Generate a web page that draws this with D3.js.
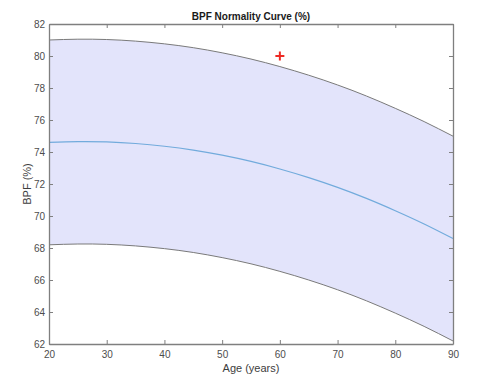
<!DOCTYPE html>
<html>
<head>
<meta charset="utf-8">
<script src="https://cdn.jsdelivr.net/npm/d3@7"></script>
<style>
  body { margin: 0; background: #fff; }
  text { font-family: "Liberation Sans", Arial, sans-serif; }
</style>
</head>
<body>
<svg id="chart" width="487" height="389"></svg>
<script>
// ages sampled along the normality curve
const ages = [20, 25, 30, 35, 40, 45, 50, 55, 60, 65, 70, 75, 80, 85, 90];
// mean BPF (%) and band limits
const meanBpf  = [74.60, 74.65, 74.63, 74.53, 74.36, 74.12, 73.80, 73.41, 72.94, 72.40, 71.79, 71.10, 70.33, 69.50, 68.59];
const upperBpf = [81.00, 81.05, 81.03, 80.93, 80.76, 80.52, 80.20, 79.81, 79.34, 78.80, 78.19, 77.50, 76.73, 75.90, 74.99];
const lowerBpf = [68.20, 68.25, 68.23, 68.13, 67.96, 67.72, 67.40, 67.01, 66.54, 66.00, 65.39, 64.70, 63.93, 63.10, 62.19];
// patient measurement
const patient = [{ age: 60, bpf: 80.0 }];

const xTicks = [20, 30, 40, 50, 60, 70, 80, 90];
const yTicks = [62, 64, 66, 68, 70, 72, 74, 76, 78, 80, 82];

const svg = d3.select('#chart');
const margin = { left: 49, right: 34, top: 24, bottom: 45 };
const W = 487, H = 389;

const x = d3.scaleLinear().domain([20, 90]).range([margin.left, W - margin.right]);
const y = d3.scaleLinear().domain([62, 82]).range([H - margin.bottom, margin.top]);

const pts = ages.map((a, i) => ({ age: a, mid: meanBpf[i], hi: upperBpf[i], lo: lowerBpf[i] }));

// band fill
const area = d3.area()
    .x(d => x(d.age))
    .y0(d => y(d.lo))
    .y1(d => y(d.hi))
    .curve(d3.curveNatural);

svg.append('path')
    .datum(pts)
    .attr('d', area)
    .attr('fill', '#e3e4fb');

function curveLine(key) {
    return d3.line()
        .x(d => x(d.age))
        .y(d => y(d[key]))
        .curve(d3.curveNatural);
}

svg.append('path').datum(pts).attr('d', curveLine('hi'))
    .attr('fill', 'none').attr('stroke', '#7a7a7a').attr('stroke-width', 1);
svg.append('path').datum(pts).attr('d', curveLine('lo'))
    .attr('fill', 'none').attr('stroke', '#7a7a7a').attr('stroke-width', 1);
svg.append('path').datum(pts).attr('d', curveLine('mid'))
    .attr('fill', 'none').attr('stroke', '#72abdc').attr('stroke-width', 1.2);

// axes (MATLAB-style box with inward ticks)
const axColor = '#7f7f7f';
const tickLen = 4;

const xAxisB = d3.axisBottom(x).tickValues(xTicks).tickSizeInner(-tickLen).tickSizeOuter(0).tickPadding(7);
const xAxisT = d3.axisTop(x).tickValues(xTicks).tickSizeInner(-tickLen).tickSizeOuter(0).tickFormat('');
const yAxisL = d3.axisLeft(y).tickValues(yTicks).tickSizeInner(-tickLen).tickSizeOuter(0).tickPadding(4);
const yAxisR = d3.axisRight(y).tickValues(yTicks).tickSizeInner(-tickLen).tickSizeOuter(0).tickFormat('');

function styleAxis(g) {
    g.selectAll('path.domain').attr('stroke', axColor).attr('stroke-width', 1.3);
    g.selectAll('.tick line').attr('stroke', axColor);
    g.selectAll('.tick text').attr('fill', '#4d4d4d')
        .style('font-family', '"Liberation Sans", Arial, sans-serif')
        .style('font-size', '10px');
}

svg.append('g').attr('transform', `translate(0,${y(62)})`).call(xAxisB).call(styleAxis);
svg.append('g').attr('transform', `translate(0,${y(82)})`).call(xAxisT).call(styleAxis);
svg.append('g').attr('transform', `translate(${x(20)},0)`).call(yAxisL).call(styleAxis);
svg.append('g').attr('transform', `translate(${x(90)},0)`).call(yAxisR).call(styleAxis);

// patient marker: red plus
const mk = svg.append('g');
patient.forEach(p => {
    const cx = x(p.age), cy = y(p.bpf), s = 4.5;
    mk.append('line').attr('x1', cx - s).attr('x2', cx + s).attr('y1', cy).attr('y2', cy)
        .attr('stroke', '#ee2a24').attr('stroke-width', 2);
    mk.append('line').attr('x1', cx).attr('x2', cx).attr('y1', cy - s).attr('y2', cy + s)
        .attr('stroke', '#ee2a24').attr('stroke-width', 2);
});

// title and labels
const midX = (x(20) + x(90)) / 2;
svg.append('text')
    .attr('x', midX).attr('y', 20)
    .attr('text-anchor', 'middle')
    .attr('font-size', 10).attr('font-weight', 'bold').attr('fill', '#1a1a1a')
    .text('BPF Normality Curve (%)');

svg.append('text')
    .attr('x', midX).attr('y', 372)
    .attr('text-anchor', 'middle')
    .attr('font-size', 11).attr('fill', '#3d3d3d')
    .text('Age (years)');

svg.append('text')
    .attr('transform', `translate(31,${(y(62) + y(82)) / 2}) rotate(-90)`)
    .attr('text-anchor', 'middle')
    .attr('font-size', 11).attr('fill', '#3d3d3d')
    .text('BPF (%)');
</script>
</body>
</html>
